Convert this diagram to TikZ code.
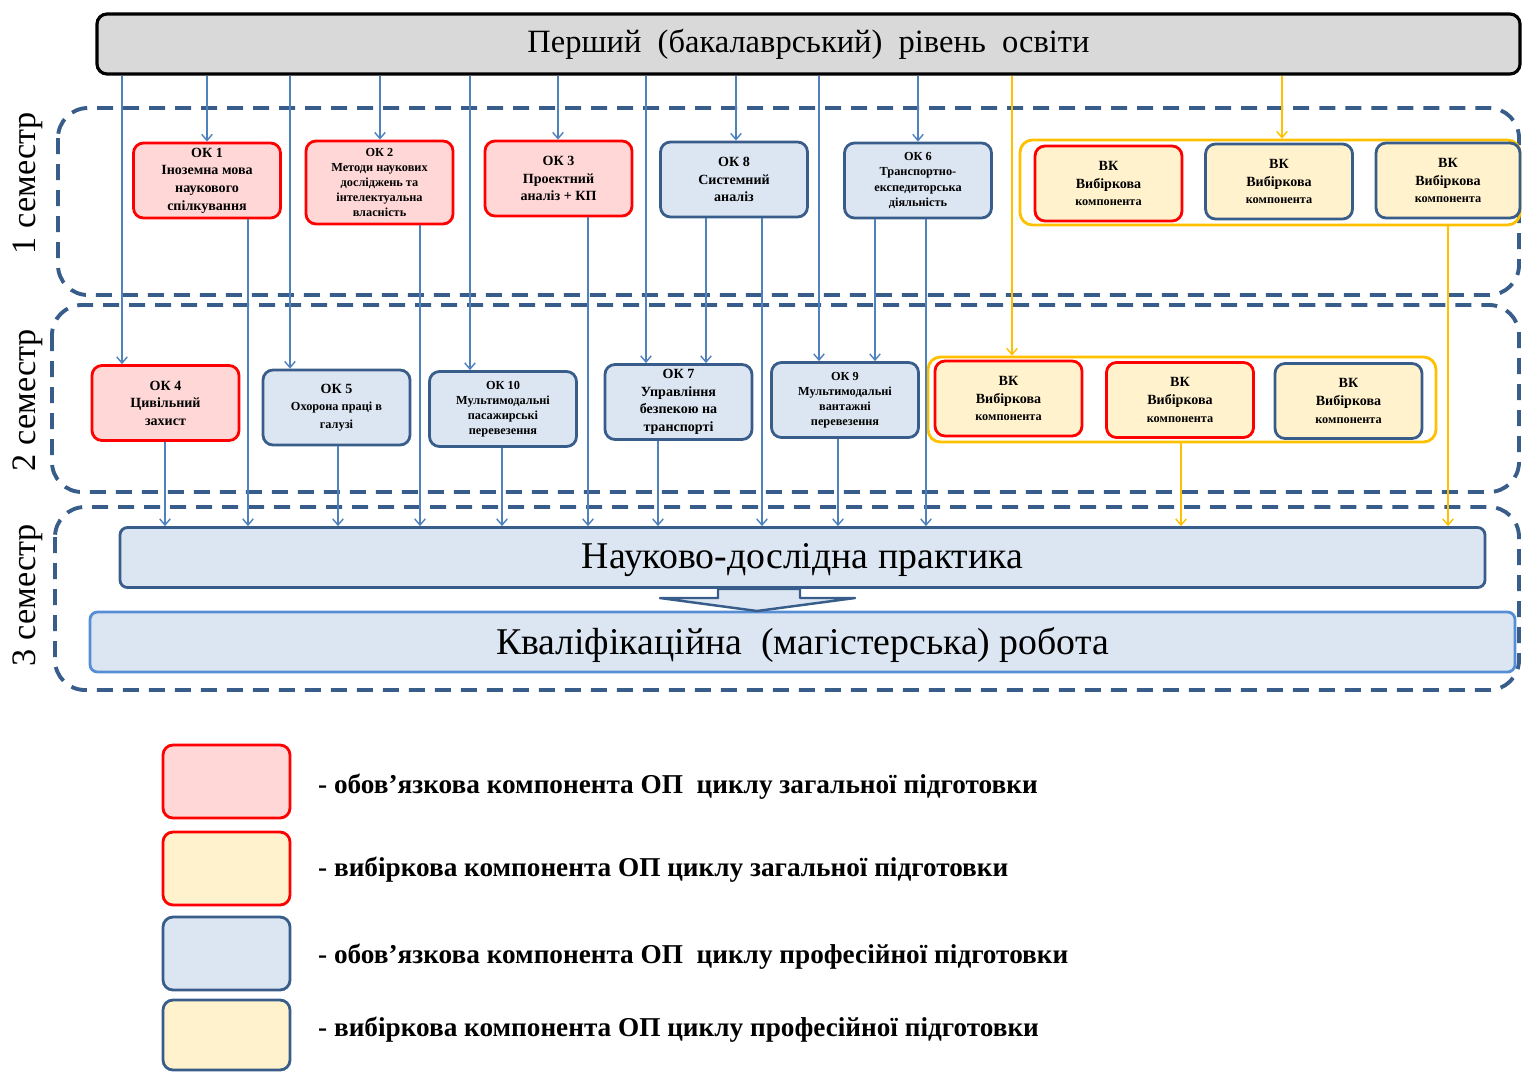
\documentclass[tikz,border=0pt]{standalone}
\usepackage{fontspec}
\setmainfont{Liberation Serif}
\usetikzlibrary{arrows.meta,positioning}

\definecolor{redline}{HTML}{FF0000}
\definecolor{pinkfill}{HTML}{FFD7D7}
\definecolor{blueline}{HTML}{385D8A}
\definecolor{bluefill}{HTML}{DCE6F2}
\definecolor{creamfill}{HTML}{FFF2CC}
\definecolor{goldline}{HTML}{FFC000}
\definecolor{arrowblue}{HTML}{4F81BD}
\definecolor{lightline}{HTML}{558ED5}
\definecolor{barfill}{HTML}{D9D9D9}

\newcommand{\okfont}{\fontsize{8}{10}\selectfont\bfseries}
\newcommand{\oksmall}{\fontsize{7}{8.6}\selectfont\bfseries}

\begin{document}
\begin{tikzpicture}[
    x=0.2mm, y=-0.2mm,
    base/.style={rectangle,rounded corners=2mm,line width=1.6pt,align=center,inner sep=1pt,
        minimum width=29.4mm,minimum height=15mm,font=\okfont},
    gen req/.style={base,draw=redline,fill=pinkfill},
    prof req/.style={base,draw=blueline,fill=bluefill},
    gen opt/.style={base,draw=redline,fill=creamfill},
    prof opt/.style={base,draw=blueline,fill=creamfill},
    group/.style={rectangle,rounded corners=2.5mm,draw=goldline,line width=1.6pt},
    semester/.style={draw=blueline,line width=2.2pt,dash pattern=on 3.2mm off 2mm,rounded corners=6mm},
    sem label/.style={rotate=90,font=\fontsize{19.5}{22}\selectfont},
    wide box/.style={rectangle,rounded corners=1.5mm,line width=1.6pt,fill=bluefill,
        font=\fontsize{21.5}{24}\selectfont,minimum height=12mm,text depth=0.6mm},
    legend text/.style={anchor=west,font=\fontsize{15.5}{18}\selectfont\bfseries},
    arrow/.style={-{Straight Barb[length=3.5pt,width=6pt]},draw=arrowblue,line width=0.8pt},
    yarrow/.style={arrow,draw=goldline}
]
\useasboundingbox (0,0) rectangle (1522,1072);

% Semester frames
\draw[semester] (58,108) rectangle (1519,295);
\draw[semester] (52,305) rectangle (1519,492);
\draw[semester] (55,507) rectangle (1519,690);
\node[sem label] (sem1) at (28,183) {1 семестр};
\node[sem label] (sem2) at (28,400) {2 семестр};
\node[sem label] (sem3) at (28,595) {3 семестр};

% Bachelor level
\node[rectangle,rounded corners=2mm,draw=black,line width=1.8pt,fill=barfill,
    minimum width=284.6mm,minimum height=12mm,font=\fontsize{18.5}{20}\selectfont]
    (bar) at (808.5,44) {Перший\enspace(бакалаврський)\enspace рівень\enspace освіти};

% 1st semester
\node[gen req] (ok1) at (207,180.5) {ОК 1\\Іноземна мова\\наукового\\спілкування};
\node[gen req,minimum height=16.6mm,font=\oksmall] (ok2) at (379.5,182.5)
    {ОК 2\\Методи наукових\\досліджень та\\інтелектуальна\\власність};
\node[gen req] (ok3) at (558.5,178.5) {ОК 3\\Проектний\\аналіз + КП};
\node[prof req] (ok8) at (734,179.5) {ОК 8\\Системний\\аналіз};
\node[prof req,font=\oksmall] (ok6) at (918,180.5) {ОК 6\\Транспортно-\\експедиторська\\діяльність};
\node[group,minimum width=100mm,minimum height=17mm] (vk1) at (1270,182.5) {};
\node[gen opt] (bk1) at (1108.5,183.5) {ВК\\Вибіркова\\{\oksmall компонента}};
\node[prof opt] (bk2) at (1279,181.5) {ВК\\Вибіркова\\{\oksmall компонента}};
\node[prof opt,minimum width=28.8mm] (bk3) at (1448,180.5) {ВК\\Вибіркова\\{\oksmall компонента}};

% 2nd semester
\node[gen req] (ok4) at (165.5,403) {ОК 4\\Цивільний\\захист};
\node[prof req] (ok5) at (336.5,407.5) {ОК 5\\{\oksmall Охорона праці в}\\{\oksmall галузі}};
\node[prof req,font=\oksmall] (ok10) at (503,409) {ОК 10\\Мультимодальні\\пасажирські\\перевезення};
\node[prof req] (ok7) at (678.5,402) {ОК 7\\Управління\\безпекою на\\транспорті};
\node[prof req,font=\oksmall] (ok9) at (845,400) {ОК 9\\Мультимодальні\\вантажні\\перевезення};
\node[group,minimum width=101.6mm,minimum height=17mm] (vk2) at (1182,399.5) {};
\node[gen opt] (bk4) at (1008.5,398.5) {ВК\\Вибіркова\\{\oksmall компонента}};
\node[gen opt] (bk5) at (1180,400) {ВК\\Вибіркова\\{\oksmall компонента}};
\node[prof opt] (bk6) at (1348.5,401) {ВК\\Вибіркова\\{\oksmall компонента}};

% 3rd semester
\node[wide box,draw=blueline,minimum width=273mm] (prak) at (802.5,557.5) {Науково-дослідна практика};
\node[wide box,draw=lightline,minimum width=285mm] (thesis) at (802.5,642)
    {Кваліфікаційна\enspace(магістерська) робота};
\draw[draw=blueline,fill=bluefill,line width=1.4pt,line join=round]
    (718,589) -- (800,589) -- (800,598) -- (855,598) -- (757,611) -- (660,598) -- (718,598) -- cycle;

% Arrows from the bachelor level
\draw[arrow] (bar.south -| 122,0) -- (ok4.north -| 122,0);
\draw[arrow] (bar.south -| 207,0) -- (ok1.north -| 207,0);
\draw[arrow] (bar.south -| 290,0) -- (ok5.north -| 290,0);
\draw[arrow] (bar.south -| 380,0) -- (ok2.north -| 380,0);
\draw[arrow] (bar.south -| 470,0) -- (ok10.north -| 470,0);
\draw[arrow] (bar.south -| 558,0) -- (ok3.north -| 558,0);
\draw[arrow] (bar.south -| 646,0) -- (ok7.north -| 646,0);
\draw[arrow] (bar.south -| 736,0) -- (ok8.north -| 736,0);
\draw[arrow] (bar.south -| 819,0) -- (ok9.north -| 819,0);
\draw[arrow] (bar.south -| 918,0) -- (ok6.north -| 918,0);
\draw[yarrow] (bar.south -| 1012,0) -- (vk2.north -| 1012,0);
\draw[yarrow] (bar.south -| 1282,0) -- (vk1.north -| 1282,0);

% Arrows from the 1st semester
\draw[arrow] (ok1.south -| 248,0) -- (prak.north -| 248,0);
\draw[arrow] (ok2.south -| 420,0) -- (prak.north -| 420,0);
\draw[arrow] (ok3.south -| 588,0) -- (prak.north -| 588,0);
\draw[arrow] (ok8.south -| 706,0) -- (ok7.north -| 706,0);
\draw[arrow] (ok8.south -| 762,0) -- (prak.north -| 762,0);
\draw[arrow] (ok6.south -| 875,0) -- (ok9.north -| 875,0);
\draw[arrow] (ok6.south -| 926,0) -- (prak.north -| 926,0);
\draw[yarrow] (vk1.south -| 1448,0) -- (prak.north -| 1448,0);

% Arrows from the 2nd semester
\draw[arrow] (ok4.south -| 165,0) -- (prak.north -| 165,0);
\draw[arrow] (ok5.south -| 338,0) -- (prak.north -| 338,0);
\draw[arrow] (ok10.south -| 502,0) -- (prak.north -| 502,0);
\draw[arrow] (ok7.south -| 658,0) -- (prak.north -| 658,0);
\draw[arrow] (ok9.south -| 838,0) -- (prak.north -| 838,0);
\draw[yarrow] (vk2.south -| 1181,0) -- (prak.north -| 1181,0);

% Legend
\node[gen req,minimum width=25.4mm,minimum height=14.6mm] (lg1) at (226.5,781.5) {};
\node[gen opt,minimum width=25.4mm,minimum height=14.6mm] (lg2) at (226.5,868.5) {};
\node[prof req,minimum width=25.4mm,minimum height=14.6mm] (lg3) at (226.5,953.5) {};
\node[prof opt,minimum width=25.4mm,minimum height=14mm] (lg4) at (226.5,1035) {};
\node[legend text] (lt1) at (312,787) {- обов’язкова компонента ОП\enspace циклу загальної підготовки};
\node[legend text] (lt2) at (312,870) {- вибіркова компонента ОП циклу загальної підготовки};
\node[legend text] (lt3) at (312,957) {- обов’язкова компонента ОП\enspace циклу професійної підготовки};
\node[legend text] (lt4) at (312,1030) {- вибіркова компонента ОП циклу професійної підготовки};

\end{tikzpicture}
\end{document}
